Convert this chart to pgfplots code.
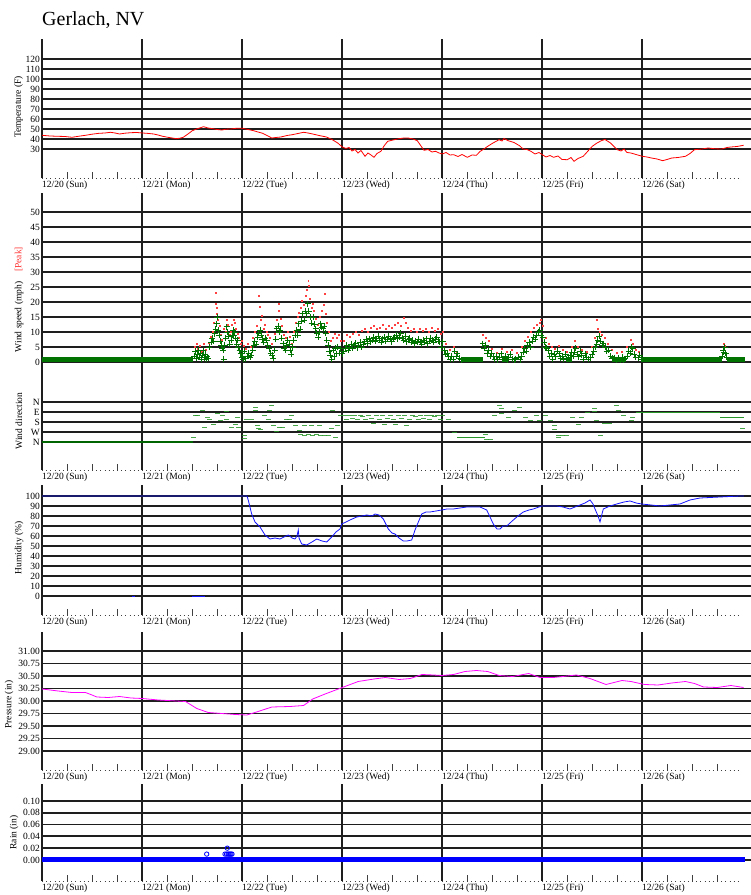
\documentclass[border=0pt]{standalone}
\usepackage{fontspec}
\setmainfont{Liberation Serif}
\usepackage{pgfplots}
\pgfplotsset{compat=1.18}
\definecolor{gridc}{RGB}{30,30,30}
\definecolor{wgreen}{RGB}{0,115,0}
\definecolor{dgreen}{RGB}{40,150,40}
\definecolor{hblue}{RGB}{20,20,255}
\definecolor{pmag}{RGB}{255,0,255}
\newcommand\lab{\fontsize{9.5}{11}\selectfont}

\pgfplotsset{
  wx/.style={
    scale only axis, width=709pt, anchor=south west, clip=false,
    xmin=0, xmax=7.09,
    axis line style={draw=none},
    xtick={0,1,2,3,4,5,6},
    xticklabels={12/20 (Sun),12/21 (Mon),12/22 (Tue),12/23 (Wed),12/24 (Thu),12/25 (Fri),12/26 (Sat)},
    minor xtick={0.25,0.5,0.75,1.25,1.5,1.75,2.25,2.5,2.75,3.25,3.5,3.75,4.25,4.5,4.75,5.25,5.5,5.75,6.25,6.5,6.75},
    xmajorgrids, ymajorgrids,
    major grid style={draw=gridc, line width=1.8pt},
    major tick length=0pt, minor tick length=6pt,
    tick align=inside, tick pos=left,
    every minor tick/.append style={draw=black!75, line width=0.7pt},
    tick label style={font=\lab},
    xticklabel style={anchor=north west, inner sep=0pt, yshift=-3pt},
    yticklabel style={inner sep=0pt, xshift=-2pt},
    scaled y ticks=false,
    /pgf/number format/assume math mode=true,
  },
}

\begin{document}
\begin{tikzpicture}
\useasboundingbox (0,0) rectangle (751pt,895pt);

% ---------- temperature
\begin{axis}[wx, at={(42pt,717pt)}, height=139pt, ymin=1, ymax=140,
  ytick={30,40,50,60,70,80,90,100,110,120}]
\addplot[red, line width=0.8pt] coordinates {
(0,43.7) (0.08,43.0) (0.16,42.7) (0.23,42.5) (0.3,41.7) (0.37,42.8) (0.435,43.7) (0.5,44.8)
(0.571,45.7) (0.63,46.0) (0.685,46.7) (0.73,46.0) (0.775,45.0) (0.83,45.8) (0.889,46.3) (0.95,46.5)
(1.003,46.0) (1.06,45.6) (1.116,45.0) (1.16,44.0) (1.207,42.7) (1.27,41.5) (1.344,40.3) (1.38,40.8)
(1.412,41.7) (1.46,45.0) (1.503,48.3) (1.56,50.5) (1.616,52.3) (1.66,51.0) (1.707,50.3) (1.75,49.5)
(1.798,49.0) (1.84,49.8) (1.889,50.0) (1.95,50.8) (2.003,50.7) (2.06,49.5) (2.116,48.3) (2.16,47.0)
(2.207,45.7) (2.25,43.5) (2.298,41.0) (2.34,41.5) (2.389,42.0) (2.45,43.5) (2.503,44.3) (2.56,45.5)
(2.616,46.7) (2.66,46.0) (2.707,45.0) (2.77,43.5) (2.844,42.0) (2.9,39.5) (2.957,36.0) (3.003,32.0)
(3.04,30.5) (3.07,31.5) (3.1,28.0) (3.13,29.5) (3.16,26.0) (3.19,28.5) (3.23,22.7) (3.26,26.0)
(3.29,24.0) (3.32,21.7) (3.35,25.5) (3.389,27.7) (3.42,33.0) (3.457,37.7) (3.51,39.0) (3.571,40.3)
(3.62,41.0) (3.662,41.0) (3.71,40.0) (3.753,38.3) (3.79,33.0) (3.82,28.7) (3.86,29.5) (3.9,27.0)
(3.935,27.7) (3.97,26.0) (4.003,25.0) (4.04,26.5) (4.08,24.0) (4.116,24.3) (4.16,22.5) (4.2,24.5)
(4.253,21.7) (4.3,24.0) (4.344,23.7) (4.38,27.5) (4.42,30.0) (4.457,32.7) (4.51,36.0) (4.571,39.3)
(4.6,38.0) (4.62,40.5) (4.662,38.3) (4.72,36.5) (4.775,33.3) (4.81,30.0) (4.85,29.5) (4.889,27.7)
(4.93,25.0) (4.97,26.5) (5.003,24.3) (5.04,22.0) (5.08,23.5) (5.116,21.7) (5.16,23.0) (5.2,19.5)
(5.253,19.3) (5.29,21.5) (5.32,17.7) (5.36,20.5) (5.412,22.7) (5.46,28.0) (5.503,32.7) (5.55,36.0)
(5.594,38.3) (5.63,39.5) (5.685,36.0) (5.72,32.5) (5.753,29.3) (5.79,28.0) (5.82,30.0) (5.85,26.5)
(5.889,26.0) (5.94,24.5) (6.003,22.7) (6.05,22.0) (6.094,21.0) (6.15,20.0) (6.207,18.3) (6.25,19.5)
(6.298,21.0) (6.36,21.5) (6.435,22.7) (6.48,25.5) (6.525,29.3) (6.6,30.0) (6.662,31.0) (6.73,30.2)
(6.798,30.0) (6.85,31.5) (6.889,32.0) (6.95,32.5) (7.016,33.7)};
\end{axis}

% ---------- wind speed
\begin{axis}[wx, at={(42pt,510pt)}, height=192pt, ymin=-7.667, ymax=56.333,
  ytick={0,5,10,15,20,25,30,35,40,45,50}, xticklabels={}, minor xtick={}]
\addplot[wgreen, line width=5pt, unbounded coords=jump] coordinates {
(0,0.8) (1.51,0.8) (1.52,nan) (4.19,0.8) (4.41,0.8) (4.42,nan) (4.60,0.8) (4.66,0.8) (4.67,nan)
(5.24,0.8) (5.30,0.8) (5.31,nan) (5.70,0.8) (5.83,0.8) (5.84,nan) (6.0,0.8) (6.8,0.8) (6.81,nan)
(6.85,0.8) (7.03,0.8)};
\addplot[only marks, mark=square*, mark size=0.45pt, red!75] coordinates {
(1.53,5) (1.545,6) (1.56,4.5) (1.58,5.5) (1.60,3.5) (1.62,6) (1.64,4) (1.67,6.5) (1.69,8.5) (1.71,10)
(1.72,13) (1.734,23) (1.738,19.5) (1.745,16) (1.75,18) (1.76,14) (1.775,12) (1.79,9) (1.80,7.5) (1.82,11)
(1.835,10) (1.85,14) (1.86,12.5) (1.875,9) (1.89,10) (1.90,12.5) (1.915,14) (1.925,13) (1.94,11) (1.955,9.5)
(1.97,8) (1.985,6) (2.0,7) (2.02,5.5) (2.04,4.5) (2.06,6) (2.09,5) (2.11,8) (2.13,10) (2.15,12)
(2.17,22) (2.175,18.5) (2.19,14) (2.2,15.5) (2.215,11) (2.23,12.5) (2.245,10) (2.26,9) (2.28,8) (2.30,6)
(2.33,9.5) (2.35,14) (2.365,19.5) (2.37,17) (2.385,14.5) (2.40,12) (2.42,9) (2.44,8) (2.46,10) (2.48,8.5)
(2.50,6) (2.52,10) (2.54,13) (2.555,15) (2.57,16.5) (2.59,18) (2.60,20.5) (2.62,19) (2.64,22) (2.65,24)
(2.662,27) (2.668,25.5) (2.68,21) (2.695,18) (2.71,19.5) (2.72,17) (2.74,14.5) (2.76,12.5) (2.78,15) (2.80,17)
(2.82,19) (2.83,22.8) (2.84,16) (2.85,13) (2.87,10) (2.89,7) (2.91,8) (2.93,9.5) (2.95,8) (2.97,9) (2.99,7)
(3.02,7) (3.05,9) (3.08,8.5) (3.11,9.5) (3.14,10) (3.17,9) (3.20,10.5) (3.23,11) (3.26,10) (3.29,11.5)
(3.32,12) (3.35,11) (3.38,11.5) (3.41,12.5) (3.44,11) (3.47,12) (3.50,11.5) (3.53,12.5) (3.56,13) (3.59,12)
(3.62,14.8) (3.635,13) (3.66,11.5) (3.69,10.5) (3.72,11) (3.75,10) (3.78,11) (3.81,10.5) (3.84,11) (3.87,10)
(3.90,11.5) (3.93,10.5) (3.96,11) (3.99,9.5) (4.01,10) (4.04,6) (4.08,4) (4.12,5) (4.15,3.5)
(4.41,9) (4.44,8) (4.47,7) (4.50,4.5) (4.55,3) (4.60,4.5) (4.65,3.5) (4.70,4) (4.75,3) (4.80,5)
(4.83,7) (4.86,8.5) (4.89,10) (4.92,11.5) (4.95,12.5) (4.98,13) (4.99,14) (5.01,12) (5.04,8) (5.07,6)
(5.10,5) (5.13,4.5) (5.17,5.5) (5.21,4) (5.25,3.5) (5.30,5) (5.33,7) (5.36,5) (5.40,4) (5.45,3.5)
(5.50,5) (5.53,8) (5.55,14) (5.56,11) (5.58,10) (5.60,9) (5.63,8) (5.66,6) (5.70,4) (5.75,3)
(5.80,3.5) (5.85,5) (5.89,7.5) (5.91,6) (5.94,4) (5.97,3.5) (6.82,6) (6.83,5.5)};
\addplot[only marks, mark=+, mark size=3pt, wgreen, line width=0.9pt] coordinates {
(1.52,2.0) (1.53,3.5) (1.54,1.2) (1.55,2.5) (1.56,4.0) (1.57,1.5) (1.58,3.0) (1.59,1.0) (1.60,2.2) (1.61,3.8)
(1.62,1.4) (1.63,2.6) (1.64,1.0) (1.65,1.8) (1.66,1.2) (1.672,5.0) (1.69,6.5) (1.70,8.0) (1.715,7.0) (1.727,9.4)
(1.735,11.0) (1.745,12.8) (1.752,15.0) (1.76,10.5) (1.77,8.9) (1.781,7.0) (1.79,5.5) (1.80,4.5) (1.81,3.9) (1.818,1.0)
(1.825,5.5) (1.835,8.0) (1.845,11.7) (1.854,10.0) (1.865,8.5) (1.875,6.0) (1.891,7.2) (1.90,9.0) (1.91,10.5) (1.918,9.0)
(1.927,10.0) (1.935,8.0) (1.945,6.0) (1.955,7.2) (1.964,5.0) (1.975,4.0) (1.985,2.8) (1.995,1.5) (2.0,2.8) (2.01,1.0)
(2.02,3.5) (2.037,1.1) (2.05,2.0) (2.065,3.0) (2.08,1.5) (2.092,2.2) (2.105,4.0) (2.118,5.6) (2.128,7.0) (2.14,6.0)
(2.155,8.3) (2.165,9.5) (2.18,10.6) (2.19,9.0) (2.201,7.5) (2.215,6.5) (2.23,8.0) (2.245,7.2) (2.256,5.5) (2.27,4.4)
(2.285,3.0) (2.3,2.2) (2.311,1.2) (2.325,4.0) (2.335,7.5) (2.347,11.1) (2.36,12.0) (2.373,10.0) (2.384,10.5) (2.395,8.0)
(2.41,6.1) (2.42,4.5) (2.435,3.9) (2.447,5.5) (2.457,7.2) (2.47,6.0) (2.483,4.0) (2.493,2.5) (2.505,5.0) (2.518,7.2)
(2.53,9.0) (2.545,10.6) (2.555,9.0) (2.566,12.8) (2.58,11.0) (2.595,13.5) (2.607,16.1) (2.62,14.0) (2.632,17.0) (2.645,16.1)
(2.657,19.4) (2.665,17.0) (2.683,15.0) (2.695,13.0) (2.712,15.0) (2.725,12.5) (2.737,11.1) (2.749,9.5) (2.76,8.3) (2.773,10.0)
(2.785,12.8) (2.797,11.5) (2.81,11.1) (2.822,12.0) (2.835,9.5) (2.847,7.2) (2.86,5.5) (2.872,3.5) (2.884,2.2) (2.895,1.0)
(2.91,3.9) (2.92,2.0) (2.931,4.5) (2.945,2.8) (2.958,5.0) (2.97,3.0) (2.985,4.4) (3.0,2.8)
(3.015,3.5) (3.03,4.4) (3.045,5.5) (3.06,3.9) (3.075,5.0) (3.09,6.0) (3.105,4.5) (3.12,5.6) (3.135,6.2) (3.15,4.8)
(3.165,5.5) (3.18,6.5) (3.195,5.0) (3.21,6.0) (3.225,6.7) (3.24,7.5) (3.255,6.2) (3.27,7.8) (3.285,6.7) (3.30,7.2)
(3.315,8.3) (3.33,7.0) (3.345,7.8) (3.36,8.5) (3.375,7.2) (3.39,6.5) (3.405,7.8) (3.42,8.3) (3.435,7.0) (3.45,7.5)
(3.465,8.5) (3.48,7.8) (3.495,6.8) (3.51,7.5) (3.525,8.3) (3.54,9.0) (3.555,7.8) (3.57,8.3) (3.585,9.5) (3.60,8.0)
(3.615,7.2) (3.63,8.5) (3.645,6.7) (3.66,7.5) (3.675,8.0) (3.69,6.5) (3.705,7.2) (3.72,6.1) (3.735,7.0) (3.75,6.5)
(3.765,7.5) (3.78,6.8) (3.795,6.0) (3.81,7.2) (3.825,6.5) (3.84,7.8) (3.855,6.1) (3.87,7.0) (3.885,8.0) (3.90,7.2)
(3.915,6.5) (3.93,7.5) (3.945,8.3) (3.96,7.0) (3.975,6.7) (3.99,5.0) (4.005,6.7) (4.02,4.0) (4.035,2.5) (4.05,3.0)
(4.062,1.7) (4.08,1.0) (4.095,2.0) (4.11,1.0) (4.125,3.5) (4.14,2.0) (4.154,2.8) (4.17,1.2) (4.19,0.8)
(4.409,6.1) (4.42,4.5) (4.435,5.5) (4.45,3.0) (4.464,3.9) (4.48,2.0) (4.495,3.0) (4.51,1.7) (4.525,1.0) (4.54,2.0)
(4.555,0.8) (4.57,1.5) (4.592,2.8) (4.61,1.0) (4.63,2.0) (4.65,0.8) (4.665,1.4) (4.68,2.5) (4.70,1.0) (4.72,0.8)
(4.738,1.1) (4.76,1.5) (4.78,0.8) (4.795,2.0) (4.811,3.3) (4.825,4.5) (4.84,3.5) (4.855,5.6) (4.87,6.5) (4.885,5.0)
(4.90,7.0) (4.915,8.3) (4.93,7.5) (4.945,9.0) (4.96,10.0) (4.975,10.5) (4.99,9.0) (5.005,8.3) (5.02,6.5) (5.03,5.0)
(5.045,4.5) (5.06,3.9) (5.075,2.0) (5.09,3.0) (5.105,1.0) (5.12,2.5) (5.139,1.7) (5.155,3.5) (5.17,2.8) (5.185,1.2)
(5.2,2.0) (5.215,1.0) (5.23,2.5) (5.249,1.1) (5.265,1.5) (5.28,2.2) (5.295,3.3) (5.31,2.0) (5.322,3.3) (5.335,4.5)
(5.35,2.5) (5.365,1.7) (5.38,3.5) (5.395,2.2) (5.41,1.0) (5.431,2.8) (5.445,1.5) (5.46,1.0) (5.486,1.4) (5.50,2.5)
(5.515,3.5) (5.53,5.0) (5.545,6.0) (5.559,7.2) (5.57,8.5) (5.585,7.0) (5.60,5.5) (5.613,6.1) (5.63,5.0) (5.645,3.5)
(5.668,3.9) (5.685,2.0) (5.70,1.2) (5.723,1.4) (5.74,0.8) (5.76,1.2) (5.78,0.8) (5.80,1.5) (5.815,0.8) (5.833,1.1)
(5.85,2.0) (5.865,3.5) (5.88,3.0) (5.895,5.0) (5.906,4.4) (5.92,2.5) (5.935,1.5) (5.96,1.4) (5.975,2.2) (5.99,1.0)
(6.80,2.0) (6.81,4.0) (6.818,3.3) (6.825,5.0) (6.835,3.0) (6.845,1.5)};
\end{axis}

% ---------- wind direction (degrees, drawn as 360-deg)
\begin{axis}[wx, at={(42pt,425pt)}, height=85pt, ymin=-252, ymax=513,
  ytick={0,90,180,270,360}, yticklabels={N,W,S,E,N}]
\addplot[color={rgb,255:red,0;green,100;blue,0}, line width=2.5pt, y filter/.expression={360-y}]
  coordinates {(0,360) (1.507,360)};
\addplot[dgreen, line width=1.3pt, unbounded coords=jump, y filter/.expression={360-y}] coordinates {
(4.15,321) (4.43,321) (4.44,nan) (5.94,96) (6.78,96) (6.785,nan) (6.78,141) (7.02,141)};
\addplot[only marks, mark=-, mark size=2.5pt, dgreen, line width=1pt, opacity=0.85,
  y filter/.expression={360-y}] coordinates {
(1.51,324) (1.53,120) (1.55,126) (1.60,75) (1.62,231) (1.65,144) (1.67,159) (1.71,204) (1.75,105) (1.78,165)
(1.80,126) (1.84,159) (1.84,90) (1.89,231) (1.93,204) (1.95,144) (1.96,231) (2.02,300) (2.02,330) (2.04,159)
(2.09,159) (2.13,54) (2.13,75) (2.15,210) (2.16,240) (2.18,249) (2.22,120) (2.26,159) (2.27,75) (2.29,30)
(2.31,210) (2.34,270) (2.37,231) (2.40,231) (2.44,159) (2.47,159) (2.49,120) (2.53,210) (2.57,255) (2.58,294)
(2.62,300) (2.66,297) (2.70,303) (2.74,297) (2.78,303) (2.82,300) (2.86,300) (2.62,210) (2.69,210) (2.77,210)
(2.895,240) (2.905,75) (2.93,324) (2.95,210) (2.985,126)
(3.02,126) (3.04,159) (3.07,126) (3.10,147) (3.12,126) (3.15,159) (3.18,126) (3.20,135) (3.23,159) (3.26,126)
(3.29,147) (3.31,195) (3.34,126) (3.37,159) (3.40,126) (3.42,204) (3.45,147) (3.48,126) (3.51,159) (3.53,204)
(3.56,126) (3.59,147) (3.62,126) (3.64,210) (3.67,159) (3.70,126) (3.73,135) (3.76,159) (3.78,126) (3.81,147)
(3.84,126) (3.87,159) (3.89,126) (3.92,135) (3.95,126) (3.98,159) (4.00,126)
(4.06,159) (4.12,279) (4.44,339) (4.48,339) (4.43,294) (4.52,126) (4.57,30) (4.59,60) (4.59,105) (4.665,144)
(4.72,75) (4.77,54) (4.83,144) (4.88,165) (4.94,126) (4.975,165) (5.03,126) (5.08,165) (5.12,216) (5.12,249)
(5.16,300) (5.20,300) (5.24,300) (5.16,321) (5.30,144) (5.36,204) (5.395,144) (5.45,96) (5.52,60) (5.52,84)
(5.54,165) (5.58,300) (5.62,195) (5.67,195) (5.74,30) (5.76,75) (5.81,126) (5.89,165) (5.905,144) (7.0,240)};
\end{axis}

% ---------- humidity
\begin{axis}[wx, at={(42pt,280pt)}, height=130pt, ymin=-19, ymax=111,
  ytick={0,10,20,30,40,50,60,70,80,90,100}]
\addplot[hblue, line width=0.8pt, unbounded coords=jump] coordinates {
(0.90,0) (0.93,0) (0.94,nan) (1.50,0) (1.63,0)};
\addplot[hblue, line width=0.8pt] coordinates {
(0,100) (2.05,100) (2.063,95.7) (2.097,82) (2.13,74) (2.18,69) (2.23,61) (2.28,57) (2.33,58) (2.38,57)
(2.42,59) (2.463,61) (2.5,58) (2.53,57) (2.55,60) (2.563,66) (2.57,58) (2.597,52) (2.647,51) (2.7,54)
(2.747,57) (2.8,55) (2.847,54) (2.897,59) (2.94,64) (2.98,67) (2.997,72) (3.04,74) (3.08,76) (3.147,79)
(3.2,80) (3.247,81) (3.3,80) (3.33,82) (3.37,81) (3.413,77) (3.463,67) (3.5,63) (3.53,62) (3.57,58)
(3.613,55) (3.65,55) (3.697,56) (3.73,66) (3.797,82) (3.84,84) (3.88,84) (3.94,85) (3.997,86) (4.05,87)
(4.113,87) (4.18,88) (4.247,89) (4.31,89) (4.38,89) (4.447,86) (4.48,79) (4.513,72) (4.55,67) (4.58,67)
(4.61,70) (4.647,70) (4.713,76) (4.76,80) (4.813,84) (4.87,86) (4.913,87) (4.997,90) (5.07,90) (5.147,90)
(5.21,89) (5.28,87) (5.33,89) (5.38,91) (5.43,93) (5.48,96) (5.51,92) (5.53,87) (5.56,80) (5.58,74)
(5.6,82) (5.613,87) (5.68,90) (5.747,92) (5.82,94) (5.88,95) (5.94,93) (5.997,92) (6.09,91) (6.18,90)
(6.28,91) (6.38,92) (6.48,96) (6.58,98) (6.68,98.5) (6.78,99) (6.88,99.5) (6.98,100) (7.02,100)};
\end{axis}

% ---------- pressure
\begin{axis}[wx, at={(42pt,125pt)}, height=138pt, ymin=28.62, ymax=31.38,
  ytick={29,29.25,29.5,29.75,30,30.25,30.5,30.75,31},
  yticklabel style={/pgf/number format/fixed, /pgf/number format/fixed zerofill, /pgf/number format/precision=2}]
\addplot[pmag, line width=0.8pt] coordinates {
(0,30.24) (0.162,30.20) (0.298,30.17) (0.435,30.17) (0.5,30.12) (0.548,30.08) (0.662,30.07) (0.775,30.09)
(0.889,30.06) (1.003,30.05) (1.162,30.02) (1.344,30.00) (1.435,29.99) (1.548,29.85) (1.662,29.77) (1.798,29.75)
(1.935,29.73) (2.048,29.72) (2.162,29.79) (2.298,29.88) (2.48,29.89) (2.616,29.91) (2.707,30.04) (2.844,30.15)
(3.003,30.27) (3.162,30.39) (3.32,30.44) (3.434,30.47) (3.571,30.43) (3.685,30.45) (3.80,30.53) (3.912,30.52)
(4.003,30.51) (4.116,30.53) (4.23,30.59) (4.344,30.61) (4.457,30.59) (4.571,30.51) (4.707,30.49) (4.866,30.55)
(4.98,30.47) (5.116,30.47) (5.207,30.49) (5.344,30.52) (5.48,30.45) (5.64,30.33) (5.80,30.41) (5.889,30.39)
(6.025,30.33) (6.16,30.32) (6.298,30.36) (6.435,30.39) (6.525,30.35) (6.616,30.28) (6.753,30.27) (6.889,30.31)
(7.016,30.27)};
\end{axis}

% ---------- rain
\begin{axis}[wx, at={(42pt,14pt)}, height=97pt, ymin=-0.0356, ymax=0.1288,
  ytick={0,0.02,0.04,0.06,0.08,0.1},
  yticklabel style={/pgf/number format/fixed, /pgf/number format/fixed zerofill, /pgf/number format/precision=2}]
\addplot[blue, line width=5pt] coordinates {(0,0) (7.03,0)};
\addplot[only marks, mark=o, mark size=2.2pt, blue, line width=0.8pt] coordinates {
(1.647,0.01) (1.853,0.02) (1.83,0.01) (1.845,0.01) (1.86,0.01) (1.87,0.01) (1.88,0.01) (1.89,0.01) (1.90,0.01)};
\end{axis}

% baselines with hourly dots
\foreach \yb in {717pt,425pt,280pt,125pt,14pt}{
  \draw[black!75, line width=0.8pt, dash pattern=on 0.8pt off 3.3667pt] (42pt,\yb) -- (742pt,\yb);
}

% titles and axis labels
\node[anchor=base west, font=\fontsize{20}{24}\selectfont, inner sep=0pt] at (42pt,869pt) {Gerlach, NV};
\node[rotate=90, font=\lab] at (18.5pt,788pt) {Temperature (F)};
\node[rotate=90, font=\lab] at (19pt,595.5pt) {Wind speed (mph)\hspace{10pt}\textcolor{red!80}{[Peak]}};
\node[rotate=90, font=\lab] at (19pt,474pt) {Wind direction};
\node[rotate=90, font=\lab] at (19pt,347pt) {Humidity (\%)};
\node[rotate=90, font=\lab] at (9pt,190.5pt) {Pressure (in)};
\node[rotate=90, font=\lab] at (14pt,62.5pt) {Rain (in)};
\end{tikzpicture}
\end{document}
